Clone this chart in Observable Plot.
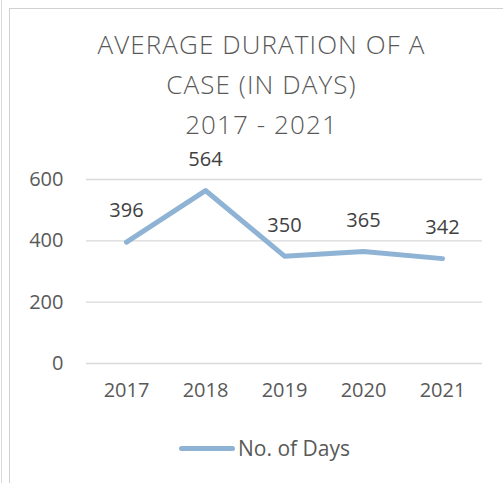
<!DOCTYPE html>
<html>
<head>
<meta charset="utf-8">
<script src="https://cdn.jsdelivr.net/npm/d3@7"></script>
<script src="https://cdn.jsdelivr.net/npm/@observablehq/plot@0.6"></script>
<style>
  html, body { margin: 0; padding: 0; background: #fff; }
  #wrap { position: relative; width: 503px; height: 483px; overflow: hidden; font-family: "Open Sans", "Noto Sans", sans-serif; }
  #outer { position: absolute; left: 1px; top: 0; width: 1px; height: 483px; background: #d9d9d9; }
  #frameL { position: absolute; left: 9px; top: 8px; width: 1px; height: 475px; background: #d0d0d0; }
  #frameT { position: absolute; left: 9px; top: 8px; width: 494px; height: 1px; background: #d0d0d0; }
  #title { position: absolute; left: 10px; top: 24px; width: 503px; text-align: center; color: #595959; font-size: 26px; letter-spacing: 1.1px; font-weight: 300; line-height: 40px; }
  #chart { position: absolute; left: 0; top: 140px; }
  #legend { position: absolute; left: 0; top: 434px; width: 503px; height: 28px; }
  #legend .sw { position: absolute; left: 179px; top: 12px; width: 56px; height: 5px; border-radius: 3px; background: #8fb3d4; }
  #legend .lb { position: absolute; left: 238px; top: 0px; font-size: 21px; color: #595959; line-height: 28px; }
</style>
</head>
<body>
<div id="wrap">
  <div id="outer"></div>
  <div id="frameL"></div>
  <div id="frameT"></div>
  <div id="title">AVERAGE DURATION OF A<br>CASE (IN DAYS)<br>2017 - 2021</div>
  <div id="chart"></div>
  <div id="legend"><div class="sw"></div><div class="lb">No. of Days</div></div>
</div>
<script>
const years = ["2017", "2018", "2019", "2020", "2021"];
const days = [396, 564, 350, 365, 342];
const yTicks = [0, 200, 400, 600];
const seriesName = "No. of Days";

const data = years.map((y, i) => ({year: y, value: days[i]}));

const chart = Plot.plot({
  width: 503,
  height: 290,
  marginLeft: 86,
  marginRight: 21,
  marginTop: 39,
  marginBottom: 67,
  style: { fontFamily: "Open Sans, Noto Sans, sans-serif", fontSize: "20px", color: "#595959", background: "transparent", overflow: "visible" },
  x: { type: "point", domain: years, padding: 0.5, axis: null },
  y: { domain: [0, 600], axis: null },
  marks: [
    Plot.gridY(yTicks, { stroke: "#d9d9d9", strokeOpacity: 1, strokeWidth: 1.3 }),
    Plot.axisY(yTicks, { tickSize: 0, tickPadding: 23, fontSize: 20, fill: "#595959", label: null }),
    Plot.axisX(years, { tickSize: 0, tickPadding: 19, fontSize: 20, fill: "#595959", label: null }),
    Plot.line(data, { x: "year", y: "value", stroke: "#8fb3d4", strokeWidth: 5, strokeLinecap: "round", strokeLinejoin: "round" }),
    Plot.text(data, { x: "year", y: "value", text: d => String(d.value), dy: -31, fontSize: 20, fill: "#404040" })
  ]
});
document.getElementById("chart").appendChild(chart);
</script>
</body>
</html>
